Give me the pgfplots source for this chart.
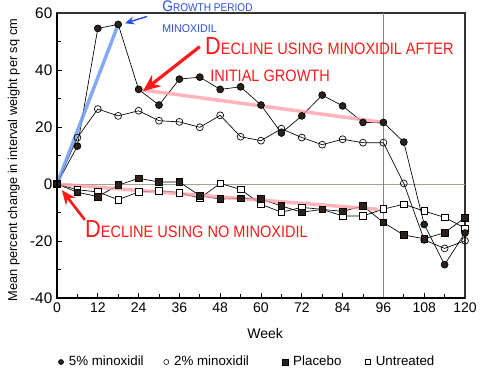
\documentclass[border=0pt]{standalone}
\usepackage{fontspec}
\setmainfont{Liberation Sans}
\usepackage{pgfplots}
\pgfplotsset{compat=1.18}
\usetikzlibrary{arrows.meta}
\definecolor{darkfill}{HTML}{2B2119}
\definecolor{annblue}{HTML}{2A50E0}
\definecolor{lineblue}{HTML}{6E9CF0}
\definecolor{annred}{HTML}{FF1A1A}
\definecolor{pinkline}{HTML}{FF9AA3}
\definecolor{refline}{HTML}{A89F92}
\definecolor{vline}{HTML}{8A8080}
\newcommand{\hwred}[2]{\scalebox{0.88}[1]{{\fontsize{18.5}{20}\selectfont #1}{\fontsize{12.4}{14}\selectfont #2}}}
\newcommand{\hwredplain}[1]{\scalebox{0.88}[1]{\fontsize{12.4}{14}\selectfont #1}}
\newcommand{\hwblue}[2]{\scalebox{0.9}[1]{{\fontsize{11.5}{13}\selectfont #1}{\fontsize{8.4}{10}\selectfont #2}}}

\pgfplotstableread{
w v
0 0
6 13.3
12 54.6
18 56
24 33.2
30 27.7
36 36.8
42 37.5
48 33.2
54 34.1
60 27.7
66 17.9
72 23.9
78 31.2
84 27.4
90 21.6
96 21.6
102 14.7
108 -14.2
114 -28.3
120 -17.2
}\fivepct
\pgfplotstableread{
w v
0 0
6 16.3
12 26.3
18 23.9
24 25.7
30 22.2
36 21.8
42 19.9
48 24.1
54 16.6
60 15.2
66 19.4
72 16.3
78 13.8
84 15.7
90 14.5
96 14.5
102 0.2
108 -19.6
114 -22.6
120 -19.9
}\twopct
\pgfplotstableread{
w v
0 0
6 -2.9
12 -4.4
18 -0.4
24 2.0
30 0.7
36 0.7
42 -4.1
48 -5.3
54 -5.0
60 -5.3
66 -7.7
72 -9.9
78 -8.9
84 -9.6
90 -7.7
96 -13.5
102 -17.9
108 -19.2
114 -17.1
120 -11.8
}\placebo
\pgfplotstableread{
w v
0 0
6 -2.0
12 -2.8
18 -5.5
24 -2.8
30 -2.3
36 -3.0
42 -5.0
48 0.2
54 -1.9
60 -7.1
66 -9.9
72 -8.2
78 -8.9
84 -11.2
90 -11.2
96 -8.8
102 -7.1
108 -9.5
114 -11.7
120 -15.5
}\untreated

\begin{document}
\begin{tikzpicture}
\begin{axis}[
  scale only axis, width=306pt, height=213.75pt,
  xmin=0, xmax=120, ymin=-40, ymax=60,
  xtick={0,12,...,120}, ytick={-40,-20,...,60},
  minor x tick num=1, minor y tick num=1,
  xtick pos=bottom, ytick pos=left,
  major tick length=4pt, minor tick length=3pt,
  tick style={black, line width=0.6pt},
  axis line style={draw=black!80, line width=0.9pt},
  /pgf/number format/assume math mode=true,
  xticklabel style={font=\fontsize{10.5}{12}\selectfont},
  yticklabel style={font=\fontsize{11.5}{13}\selectfont},
  every axis x label/.style={at={(axis description cs:0.51,-0.123)}, anchor=center, font=\fontsize{10.5}{12}\selectfont},
  every axis y label/.style={at={(axis description cs:-0.106,0.484)}, rotate=90, anchor=center, font=\fontsize{9.6}{11}\selectfont},
  xlabel={Week},
  ylabel={Mean percent change in interval weight per sq cm},
  clip=false,
  legend columns=4,
  legend image code/.code={\draw[#1] plot coordinates {(0cm,0cm)};},
  legend style={at={(0.003,-0.2246)}, anchor=west, draw=none, fill=none,
    inner sep=0pt, font=\fontsize{10}{12}\selectfont,
    /tikz/every odd column/.append style={column sep=2pt},
    /tikz/column 2/.style={column sep=13pt},
    /tikz/column 4/.style={column sep=23pt},
    /tikz/column 6/.style={column sep=16pt}},
]
% reference lines
\draw[refline, line width=0.7pt] (axis cs:0,0) -- (axis cs:120,0);
\draw[vline, line width=0.7pt] (axis cs:96,-40) -- (axis cs:96,60);

\addplot[forget plot, black, line width=0.5pt, mark=o, mark size=2.6pt, mark options={fill=white, draw=black}] table[x=w,y=v] {\twopct};
\addplot[forget plot, black, line width=0.5pt, mark=square*, mark size=2.5pt, mark options={fill=white, draw=black}] table[x=w,y=v] {\untreated};
\addplot[forget plot, black, line width=0.5pt, mark=square*, mark size=2.5pt, mark options={fill=darkfill, draw=black}] table[x=w,y=v] {\placebo};
\addplot[forget plot, black, line width=0.5pt, mark=*, mark size=2.6pt, mark options={fill=darkfill, draw=black}] table[x=w,y=v] {\fivepct};

% annotation trend lines
\addplot[forget plot, lineblue, line width=2.6pt, opacity=0.85] coordinates {(0,0) (18,56)};
\addplot[forget plot, pinkline, line width=2.6pt, opacity=0.75] coordinates {(24,33.2) (96,21.6)};
\addplot[forget plot, pinkline, line width=2.6pt, opacity=0.75] coordinates {(0,0) (94.5,-8.9)};

% legend
\addlegendimage{only marks, mark=*, mark size=1.9pt, mark options={fill=darkfill, draw=black}}
\addlegendentry{5\% minoxidil}
\addlegendimage{only marks, mark=o, mark size=1.9pt, mark options={fill=white, draw=black, line width=0.4pt}}
\addlegendentry{2\% minoxidil}
\addlegendimage{only marks, mark=square*, mark size=2.1pt, mark options={fill=darkfill, draw=black}}
\addlegendentry{Placebo}
\addlegendimage{only marks, mark=square*, mark size=1.9pt, mark options={fill=white, draw=black, line width=0.4pt}}
\addlegendentry{Untreated}

% arrows
\draw[annblue, line width=1.1pt, -{Stealth[length=7pt,width=6pt]}] (axis cs:26.5,58.8) -- (axis cs:20.0,56.4);
\draw[annred, line width=2.4pt, -{Stealth[length=13pt,width=11pt]}] (axis cs:42,48.2) -- (axis cs:25.3,32.6);
\draw[annred, line width=2pt, -{Stealth[length=11pt,width=9pt]}] (axis cs:8.2,-12.6) -- (axis cs:1.4,-2.1);

% annotation texts
\node[annblue, anchor=base west, inner sep=0pt] at (axis cs:30.9,60.6) {\hwblue{G}{ROWTH PERIOD}};
\node[annblue, anchor=base west, inner sep=0pt] at (axis cs:30.9,53.3) {\scalebox{0.95}[1]{\fontsize{8.4}{10}\selectfont MINOXIDIL}};
\node[annred, anchor=base west, inner sep=0pt] at (axis cs:43.5,45.3) {\hwred{D}{ECLINE USING MINOXIDIL AFTER}};
\node[annred, anchor=base west, inner sep=0pt] at (axis cs:45.0,35.8) {\hwredplain{INITIAL GROWTH}};
\node[annred, anchor=base west, inner sep=0pt] at (axis cs:8.2,-18.6) {\hwred{D}{ECLINE USING NO MINOXIDIL}};
\end{axis}
\draw[black, line width=1.3pt] (0,213.75pt) -- (0,0) -- (306pt,0);
\pgfresetboundingbox
\useasboundingbox (-42.75pt,-61.5pt) rectangle (332.25pt,223.5pt);
\end{tikzpicture}
\end{document}
